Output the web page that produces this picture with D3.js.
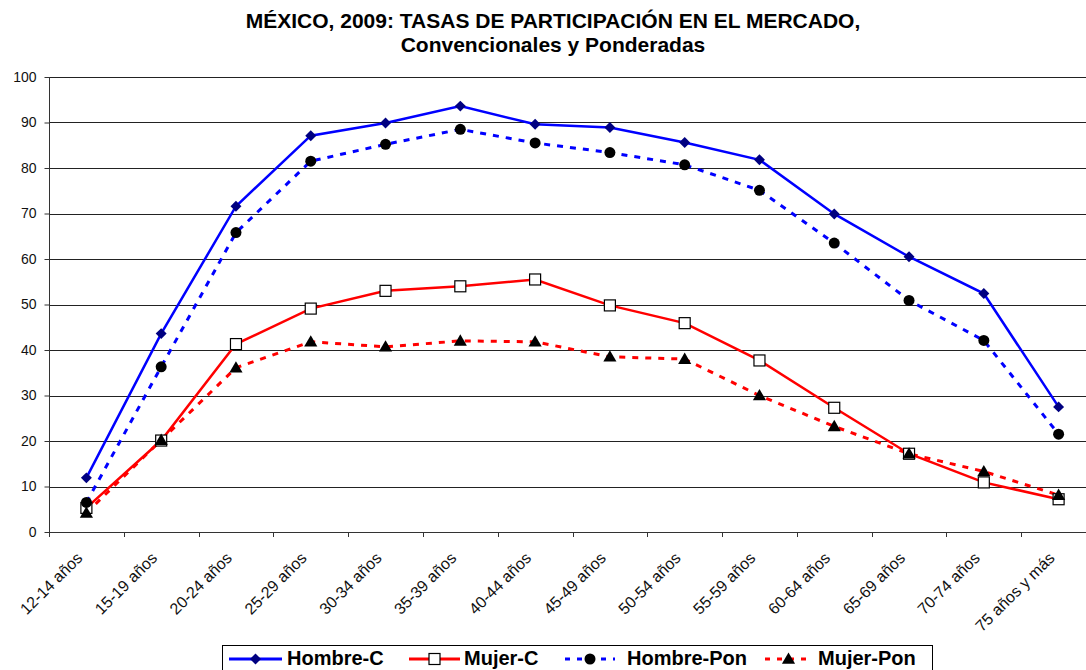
<!DOCTYPE html>
<html><head><meta charset="utf-8">
<script src="https://cdn.jsdelivr.net/npm/d3@7"></script>
<style>
html,body{margin:0;padding:0;background:#fff;overflow:hidden}
text{font-family:"Liberation Sans",Arial,sans-serif}
</style></head>
<body><svg id="c" width="1086" height="670"></svg>
<script>
const categories = ["12-14 años","15-19 años","20-24 años","25-29 años","30-34 años","35-39 años","40-44 años","45-49 años","50-54 años","55-59 años","60-64 años","65-69 años","70-74 años","75 años y más"];
const hombreC   = [11.9, 43.6, 71.6, 87.1, 89.9, 93.6, 89.6, 88.9, 85.6, 81.8, 69.9, 60.5, 52.4, 27.5];
const mujerC    = [5.3, 20.1, 41.3, 49.1, 53.0, 54.0, 55.5, 49.8, 45.9, 37.7, 27.3, 17.2, 10.9, 7.2];
const hombrePon = [6.5, 36.3, 65.8, 81.5, 85.2, 88.5, 85.5, 83.4, 80.7, 75.1, 63.5, 50.9, 42.1, 21.5];
const mujerPon  = [4.2, 20.2, 36.1, 41.8, 40.7, 42.0, 41.8, 38.5, 38.0, 30.0, 23.2, 17.2, 13.3, 8.1];
const yTicks = [0,10,20,30,40,50,60,70,80,90,100];
const titleLines = ["MÉXICO, 2009: TASAS DE PARTICIPACIÓN EN EL MERCADO,", "Convencionales y Ponderadas"];
const seriesNames = ["Hombre-C","Mujer-C","Hombre-Pon","Mujer-Pon"];

const svg = d3.select("#c");
const L = 49, R = 1096, T = 77, B = 532;
const x = d3.scaleBand().domain(categories).range([L, R]).padding(0);
const bw = x.bandwidth();
const cx = c => x(c) + bw/2;
const y = d3.scaleLinear().domain([0,100]).range([B, T]);

// title
svg.append("g").selectAll("text").data(titleLines).join("text")
  .attr("x", 553).attr("y", (d,i)=> 28 + i*24)
  .attr("text-anchor","middle").attr("font-weight","bold").attr("font-size", 21)
  .attr("fill","#000").text(d=>d);

// gridlines
svg.append("g").selectAll("line").data(yTicks.filter(t=>t>0)).join("line")
  .attr("x1", L).attr("x2", 1086).attr("y1", d=>Math.round(y(d))+0.5).attr("y2", d=>Math.round(y(d))+0.5)
  .attr("stroke","#222").attr("stroke-width",1);

// y axis
const ya = svg.append("g").attr("transform",`translate(${L+0.5},0)`)
  .call(d3.axisLeft(y).tickValues(yTicks).tickSize(5).tickPadding(8));
ya.select(".domain").attr("stroke","#333").attr("d", `M-0,${B}V${T}`);
ya.selectAll(".tick line").attr("stroke","#333");
ya.selectAll(".tick text").attr("font-size",14).attr("fill","#111")
  .attr("font-family",'"Liberation Sans",Arial,sans-serif');

// x axis
const xa = svg.append("g").attr("transform",`translate(0,${B+0.5})`)
  .call(d3.axisBottom(x).tickSize(0).tickFormat(""));
xa.select(".domain").attr("stroke","#333").attr("d", `M${L},0H1086`);
svg.append("g").selectAll("line").data(categories).join("line")
  .attr("x1", d=>Math.round(x(d))+0.5).attr("x2", d=>Math.round(x(d))+0.5)
  .attr("y1", B).attr("y2", B+5).attr("stroke","#333");
svg.append("g").selectAll("text").data(categories).join("text")
  .attr("transform", d=>`translate(${cx(d)-3},${B+27}) rotate(-45)`)
  .attr("text-anchor","end").attr("font-size",16).attr("fill","#111").text(d=>d);

// lines
const line = d3.line().x((d,i)=>cx(categories[i])).y(d=>y(d));
svg.append("path").datum(hombreC).attr("d",line).attr("fill","none").attr("stroke","#0000FF").attr("stroke-width",2.5);
svg.append("path").datum(mujerC).attr("d",line).attr("fill","none").attr("stroke","#FF0000").attr("stroke-width",2.5);
svg.append("path").datum(hombrePon).attr("d",line).attr("fill","none").attr("stroke","#0000FF").attr("stroke-width",3).attr("stroke-dasharray","6,7");
svg.append("path").datum(mujerPon).attr("d",line).attr("fill","none").attr("stroke","#FF0000").attr("stroke-width",3).attr("stroke-dasharray","6,7");

// markers
const triangle = d3.symbol().type(d3.symbolTriangle).size(75);
function drawHC(g, px, py){ g.append("path").attr("d",d3.symbol().type(d3.symbolSquare).size(60)()).attr("transform",`translate(${px},${py}) rotate(45)`).attr("fill","#000080"); }
function drawMC(g, px, py){ g.append("rect").attr("x",px-5.5).attr("y",py-5.5).attr("width",11).attr("height",11).attr("fill","#fff").attr("stroke","#000").attr("stroke-width",1.2); }
function drawHP(g, px, py){ g.append("circle").attr("cx",px).attr("cy",py).attr("r",5.5).attr("fill","#000"); }
function drawMP(g, px, py){ g.append("path").attr("d",triangle()).attr("transform",`translate(${px},${py+1})`).attr("fill","#000"); }
const gm = svg.append("g");
hombreC.forEach((v,i)=>drawHC(gm, cx(categories[i]), y(v)));
mujerC.forEach((v,i)=>drawMC(gm, cx(categories[i]), y(v)));
hombrePon.forEach((v,i)=>drawHP(gm, cx(categories[i]), y(v)));
mujerPon.forEach((v,i)=>drawMP(gm, cx(categories[i]), y(v)));

// legend
const lg = svg.append("g");
lg.append("rect").attr("x",222.5).attr("y",645.5).attr("width",710).attr("height",30).attr("fill","#fff").attr("stroke","#000");
const legendItems = [
  {name:seriesNames[0], x1:229, x2:282, color:"#0000FF", dash:null, mk:drawHC, tx:287},
  {name:seriesNames[1], x1:409, x2:460, color:"#FF0000", dash:null, mk:drawMC, tx:464},
  {name:seriesNames[2], x1:565, x2:615, color:"#0000FF", dash:"5,7", mk:drawHP, tx:627},
  {name:seriesNames[3], x1:765, x2:812, color:"#FF0000", dash:"5,7", mk:drawMP, tx:818}
];
const ly = 659;
legendItems.forEach(it=>{
  const l = lg.append("line").attr("x1",it.x1).attr("x2",it.x2).attr("y1",ly).attr("y2",ly)
    .attr("stroke",it.color).attr("stroke-width",3);
  if(it.dash) l.attr("stroke-dasharray",it.dash);
  it.mk(lg, (it.x1+it.x2)/2, ly);
  lg.append("text").attr("x",it.tx).attr("y",665).attr("font-size",20).attr("font-weight","bold").attr("fill","#000").text(it.name);
});
</script></body></html>
